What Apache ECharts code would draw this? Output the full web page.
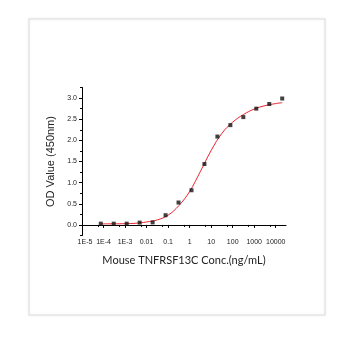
<!DOCTYPE html>
<html>
<head>
<meta charset="utf-8">
<script src="https://cdn.jsdelivr.net/npm/echarts@6/dist/echarts.min.js"></script>
<style>
html,body{margin:0;padding:0;background:#fff;}
#c{width:359px;height:338px;}
</style>
</head>
<body>
<div id="c"></div>
<script>
// Measured points: concentration (ng/mL) and OD value (450nm)
var concentrations = [7.45e-5, 2.98e-4, 1.19e-3, 4.77e-3, 0.0191, 0.0763, 0.305, 1.22, 4.88, 19.5, 78.1, 312.5, 1250, 5000, 20000];
var odValues = [0.03, 0.03, 0.03, 0.055, 0.06, 0.23, 0.53, 0.82, 1.44, 2.09, 2.36, 2.55, 2.75, 2.86, 2.99];

// Fitted curve
var curveX = [7.45e-5, 3.2e-4, 1e-3, 3.2e-3, 0.01, 0.032, 0.1, 0.32, 1, 3.2, 10, 32, 100, 316, 1000, 3162, 10000, 20000];
var curveY = [0.025, 0.026, 0.03, 0.04, 0.07, 0.12, 0.23, 0.46, 0.79, 1.27, 1.76, 2.17, 2.43, 2.61, 2.74, 2.82, 2.87, 2.89];

var xTickValues = [1e-5, 1e-4, 1e-3, 0.01, 0.1, 1, 10, 100, 1000, 10000];
var xTickLabels = ['1E-5', '1E-4', '1E-3', '0.01', '0.1', '1', '10', '100', '1000', '10000'];
var yTickValues = [0, 0.5, 1.0, 1.5, 2.0, 2.5, 3.0];
var yMinorValues = [-0.25, 0.25, 0.75, 1.25, 1.75, 2.25, 2.75, 3.25];

var xTitle = 'Mouse TNFRSF13C Conc.(ng/mL)';
var yTitle = 'OD Value (450nm)';

var chart = echarts.init(document.getElementById('c'), null, {renderer: 'canvas'});

function pairs(xs, ys) { return xs.map(function (x, i) { return [x, ys[i]]; }); }

function xLabel(v) {
  for (var i = 0; i < xTickValues.length; i++) {
    if (Math.abs(Math.log10(v) - Math.log10(xTickValues[i])) < 1e-6) {
      return i === 0 ? '{f|' + xTickLabels[i] + '}' : xTickLabels[i];
    }
  }
  return '';
}

chart.setOption({
  animation: false,
  backgroundColor: '#fff',
  graphic: [{
    type: 'rect',
    shape: {x: 29, y: 19, width: 296, height: 296},
    style: {fill: '#fff', stroke: '#e6e6e6', lineWidth: 1.5, shadowBlur: 3, shadowColor: 'rgba(0,0,0,0.06)'},
    z: -10
  }],
  grid: {left: 82, top: 87.5, right: 359 - 286, bottom: 338 - 235.5, containLabel: false},
  xAxis: [{
    type: 'log',
    logBase: 10,
    min: 1e-5,
    max: 3e4,
    name: xTitle,
    nameLocation: 'middle',
    nameGap: 19,
    nameTextStyle: {fontFamily: 'Lato', fontSize: 11, color: '#222'},
    axisLine: {show: true, lineStyle: {color: '#000', width: 1}},
    axisTick: {show: true, length: 3, customValues: xTickValues, lineStyle: {color: '#000'}},
    minorTick: {show: true, splitNumber: 2, length: 2, lineStyle: {color: '#000'}},
    axisLabel: {
      customValues: xTickValues,
      formatter: xLabel,
      margin: 3,
      fontFamily: 'Liberation Sans', fontSize: 7, color: '#222',
      rich: {f: {fontFamily: 'Liberation Sans', fontSize: 7, color: '#222', padding: [0, 0, 0, 6]}}
    },
    splitLine: {show: false}
  }],
  yAxis: [{
    type: 'value',
    min: -0.25,
    max: 3.25,
    name: yTitle,
    nameLocation: 'middle',
    nameGap: 25,
    nameRotate: 90,
    nameTextStyle: {fontFamily: 'Liberation Sans', fontSize: 11, color: '#222'},
    axisLine: {show: true, lineStyle: {color: '#000', width: 1}},
    axisTick: {show: true, length: 3, customValues: yTickValues, lineStyle: {color: '#000'}},
    axisLabel: {
      customValues: yTickValues,
      formatter: function (v) { return v.toFixed(1); },
      margin: 5,
      fontFamily: 'Liberation Sans', fontSize: 7, color: '#222'
    },
    splitLine: {show: false}
  }, {
    type: 'value',
    min: -0.25,
    max: 3.25,
    position: 'left',
    axisLine: {show: false},
    axisTick: {show: true, length: 2, customValues: yMinorValues, lineStyle: {color: '#000'}},
    axisLabel: {show: false},
    splitLine: {show: false}
  }],
  series: [{
    type: 'line',
    data: pairs(curveX, curveY),
    smooth: 0.4,
    showSymbol: false,
    lineStyle: {color: '#e8242f', width: 1},
    z: 2
  }, {
    type: 'scatter',
    data: pairs(concentrations, odValues),
    symbol: 'rect',
    symbolSize: 4,
    itemStyle: {color: '#111'},
    z: 3
  }]
});
</script>
</body>
</html>
